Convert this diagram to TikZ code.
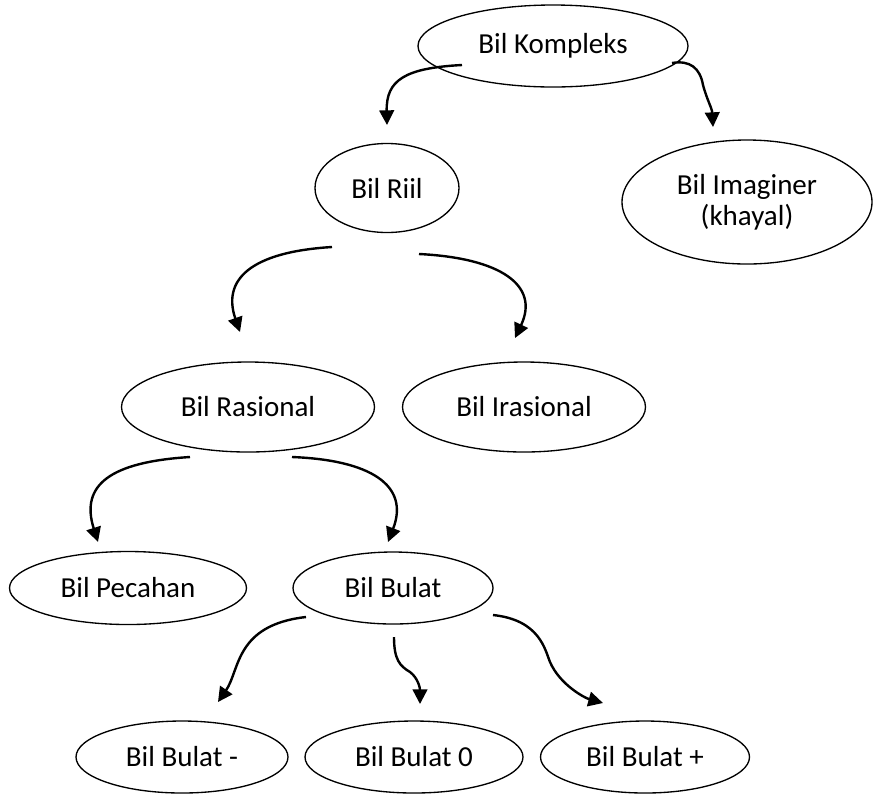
\documentclass[tikz,border=0pt]{standalone}
\usepackage{fontspec}
\setmainfont{Carlito}
\usetikzlibrary{arrows.meta,shapes.geometric}

\begin{document}
\begin{tikzpicture}[
  x=0.75pt,y=-0.75pt,
  bil/.style={draw,ellipse,line width=1pt,inner sep=0pt,align=center,font=\fontsize{21.75}{23.5}\selectfont},
  flow/.style={-{Triangle[length=11pt,width=11pt]},line width=1.8pt}
]
\useasboundingbox (0,0) rectangle (873,794);
% nodes
\node[bil,minimum width=202.5pt,minimum height=61.5pt] (kompleks) at (553,46) {Bil Kompleks};
\node[bil,minimum width=108pt,minimum height=66.75pt] (riil) at (387,188) {Bil Riil};
\node[bil,minimum width=187.5pt,minimum height=93pt] (imaginer) at (747,202) {Bil Imaginer\\(khayal)};
\node[bil,minimum width=189.75pt,minimum height=67.5pt] (rasional) at (248,407) {Bil Rasional};
\node[bil,minimum width=182.25pt,minimum height=67.5pt] (irasional) at (524,407) {Bil Irasional};
\node[bil,minimum width=177.75pt,minimum height=54.75pt] (pecahan) at (128,588) {Bil Pecahan};
\node[bil,minimum width=150pt,minimum height=54pt] (bulat) at (393,588) {Bil Bulat};
\node[bil,minimum width=159pt,minimum height=54pt] (negatif) at (182,757) {Bil Bulat -};
\node[bil,minimum width=163.5pt,minimum height=54pt] (nol) at (414,757) {Bil Bulat 0};
\node[bil,minimum width=156.75pt,minimum height=54pt] (positif) at (645,757) {Bil Bulat +};
% arrow ends
\coordinate (s1) at (462,65);  \coordinate (t1) at (387,125);
\coordinate (s2) at (672,63);  \coordinate (t2) at (713,127);
\coordinate (s3) at (332,247); \coordinate (t3) at (240,332);
\coordinate (s4) at (419,254); \coordinate (t4) at (515,338);
\coordinate (s5) at (190,457); \coordinate (t5) at (98,542);
\coordinate (s6) at (292,457); \coordinate (t6) at (388,542);
\coordinate (s7) at (306,617); \coordinate (t7) at (218,702);
\coordinate (s8) at (394,637); \coordinate (t8) at (420,704);
\coordinate (s9) at (493,615); \coordinate (t9) at (603,703);
% arrows
\draw[flow] (s1) .. controls (405,68) and (386,80) .. (t1);
\draw[flow] (s2) .. controls (690,60) and (700,68) .. (703,85) .. controls (707,100) and (712,108) .. (t2);
\draw[flow] (s3) .. controls (250,252) and (222,280) .. (t3);
\draw[flow] (s4) .. controls (500,258) and (540,285) .. (t4);
\draw[flow] (s5) .. controls (110,462) and (80,485) .. (t5);
\draw[flow] (s6) .. controls (370,460) and (410,485) .. (t6);
\draw[flow] (s7) .. controls (235,625) and (240,670) .. (t7);
\draw[flow] (s8) .. controls (394,660) and (400,666) .. (410,672) .. controls (418,678) and (420,688) .. (t8);
\draw[flow] (s9) .. controls (540,620) and (545,650) .. (550,662) .. controls (560,685) and (585,698) .. (t9);
\end{tikzpicture}
\end{document}
